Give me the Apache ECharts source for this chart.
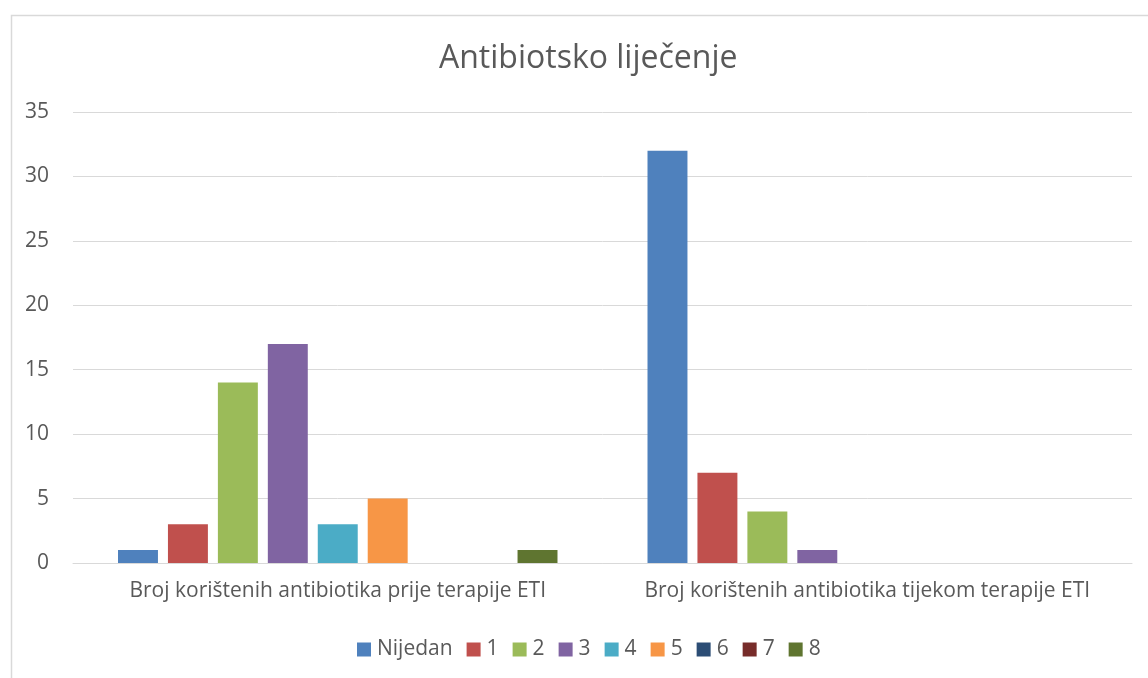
<!DOCTYPE html>
<html><head><meta charset="utf-8">
<script src="https://cdn.jsdelivr.net/npm/echarts@6/dist/echarts.min.js"></script>
<style>html,body{margin:0;padding:0;background:#fff}#c{width:1148px;height:678px}</style>
</head><body><div id="c"></div>
<script>
const categories = ['Broj korištenih antibiotika prije terapije ETI', 'Broj korištenih antibiotika tijekom terapije ETI'];
const seriesNames = ['Nijedan', '1', '2', '3', '4', '5', '6', '7', '8'];
const valNijedan = [1, 32];
const val1 = [3, 7];
const val2 = [14, 4];
const val3 = [17, 1];
const val4 = [3, 0];
const val5 = [5, 0];
const val6 = [0, 0];
const val7 = [0, 0];
const val8 = [1, 0];
const seriesValues = [valNijedan, val1, val2, val3, val4, val5, val6, val7, val8];
const colors = ['#4F81BD', '#C0504D', '#9BBB59', '#8064A2', '#4BACC6', '#F79646', '#2C4D75', '#772C2A', '#5F7530'];
const yTicks = [0, 5, 10, 15, 20, 25, 30, 35];

const font = '"Open Sans", "DejaVu Sans", sans-serif';
const chart = echarts.init(document.getElementById('c'), null, {renderer: 'canvas'});
chart.setOption({
  animation: false,
  color: colors,
  graphic: [{type: 'rect', left: 9, top: 13, shape: {width: 1300, height: 800}, style: {fill: 'none', stroke: '#d9d9d9', lineWidth: 1.5}, silent: true}],
  title: {text: 'Antibiotsko liječenje', left: 434, top: 38, textStyle: {fontFamily: font, fontSize: 32, fontWeight: 'normal', color: '#595959'}},
  legend: {bottom: 13, left: 352, itemWidth: 14, itemHeight: 14, itemGap: 14, icon: 'rect',
    textStyle: {fontFamily: font, fontSize: 21, color: '#595959', padding: [0,0,0,1]},
    data: seriesNames},
  grid: {left: 73, right: 16, top: 112, bottom: 115, containLabel: false},
  xAxis: {type: 'category', data: categories,
    axisLine: {lineStyle: {color: '#d9d9d9', width: 1}}, axisTick: {show: false},
    axisLabel: {interval: 0, fontFamily: font, fontSize: 21, color: '#595959', margin: 18}},
  yAxis: {type: 'value', min: yTicks[0], max: yTicks[yTicks.length-1], interval: 5,
    axisLine: {show: false}, axisTick: {show: false},
    splitLine: {lineStyle: {color: '#d9d9d9', width: 1}},
    axisLabel: {fontFamily: font, fontSize: 21, color: '#595959', margin: 24}},
  series: seriesNames.map((n, i) => ({name: n, type: 'bar', data: seriesValues[i], barGap: '25%', barCategoryGap: '17%',
    itemStyle: {color: colors[i]}}))
});
</script></body></html>
